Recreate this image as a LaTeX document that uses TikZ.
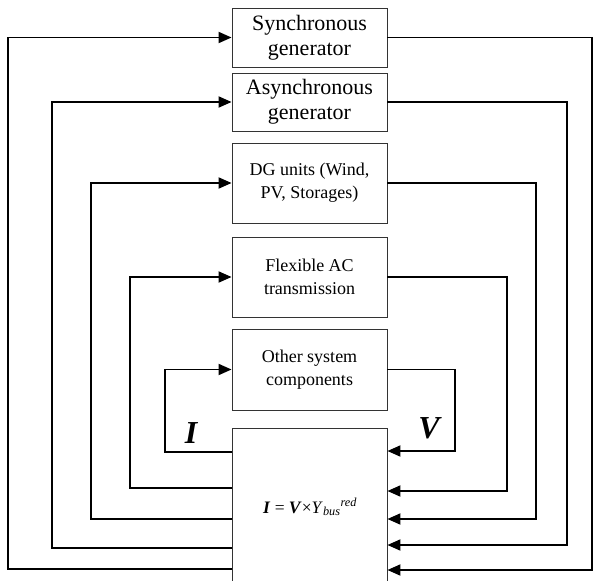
\documentclass[tikz,border=0pt]{standalone}
\usepackage{fontspec}
\setmainfont{Liberation Serif}
\usetikzlibrary{arrows.meta}
\tikzset{
  block/.style={draw=black!80, line width=0.9pt, fill=white, minimum width=155pt, align=center, inner sep=2pt},
  link/.style={line width=1.9pt, line join=miter, -{Triangle[length=13pt, width=11pt]}},
  bigfont/.style={font=\fontsize{22}{25}\selectfont},
  smallfont/.style={font=\fontsize{18}{23}\selectfont},
}
\begin{document}
\begin{tikzpicture}[x=1pt, y=-1pt]
  \useasboundingbox (0, 0) rectangle (595, 581);
  % Component blocks
  \node [block, bigfont, minimum height=59pt] (sync) at (309.5, 37.5) {Synchronous\\generator};
  \node [block, bigfont, minimum height=58pt] (async) at (309.5, 102) {Asynchronous\\generator};
  \node [block, smallfont, minimum height=80pt] (dg) at (309.5, 183) {DG units (Wind,\\PV, Storages)};
  \node [block, smallfont, minimum height=80pt] (flex) at (309.5, 277) {Flexible AC\\transmission};
  \node [block, smallfont, minimum height=81pt] (other) at (309.5, 369.5) {Other system\\components};
  % Network block
  \node [block, minimum height=172pt] (bus) at (309.5, 514) {};
  \node [font=\fontsize{17.5}{17.5}\selectfont] (eq) at (310, 507)
    {\textbf{\textit{I}} = \textbf{\textit{V}}×\textit{Y}\textsubscript{\textit{bus}}\textsuperscript{\textit{red}}};
  % Current and voltage labels
  \node [font=\fontsize{32}{32}\selectfont\bfseries\itshape] (ilabel) at (191, 433) {I};
  \node [font=\fontsize{32}{32}\selectfont\bfseries\itshape] (vlabel) at (429, 428) {V};
  % Loops: current out of the network, voltage back into it
  \foreach \n/\xl/\yl/\xr/\yr in {sync/8/569/592/570, async/52/548/567/545, dg/91/519/536/519, flex/130/488/507/491, other/165/452/455/451} {
    \draw [link] (bus.west |- 0, \yl) -- (\xl, \yl) |- (\n.west);
    \draw [link] (\n.east) -| (\xr, \yr) -- (bus.east |- 0, \yr);
  }
\end{tikzpicture}
\end{document}
